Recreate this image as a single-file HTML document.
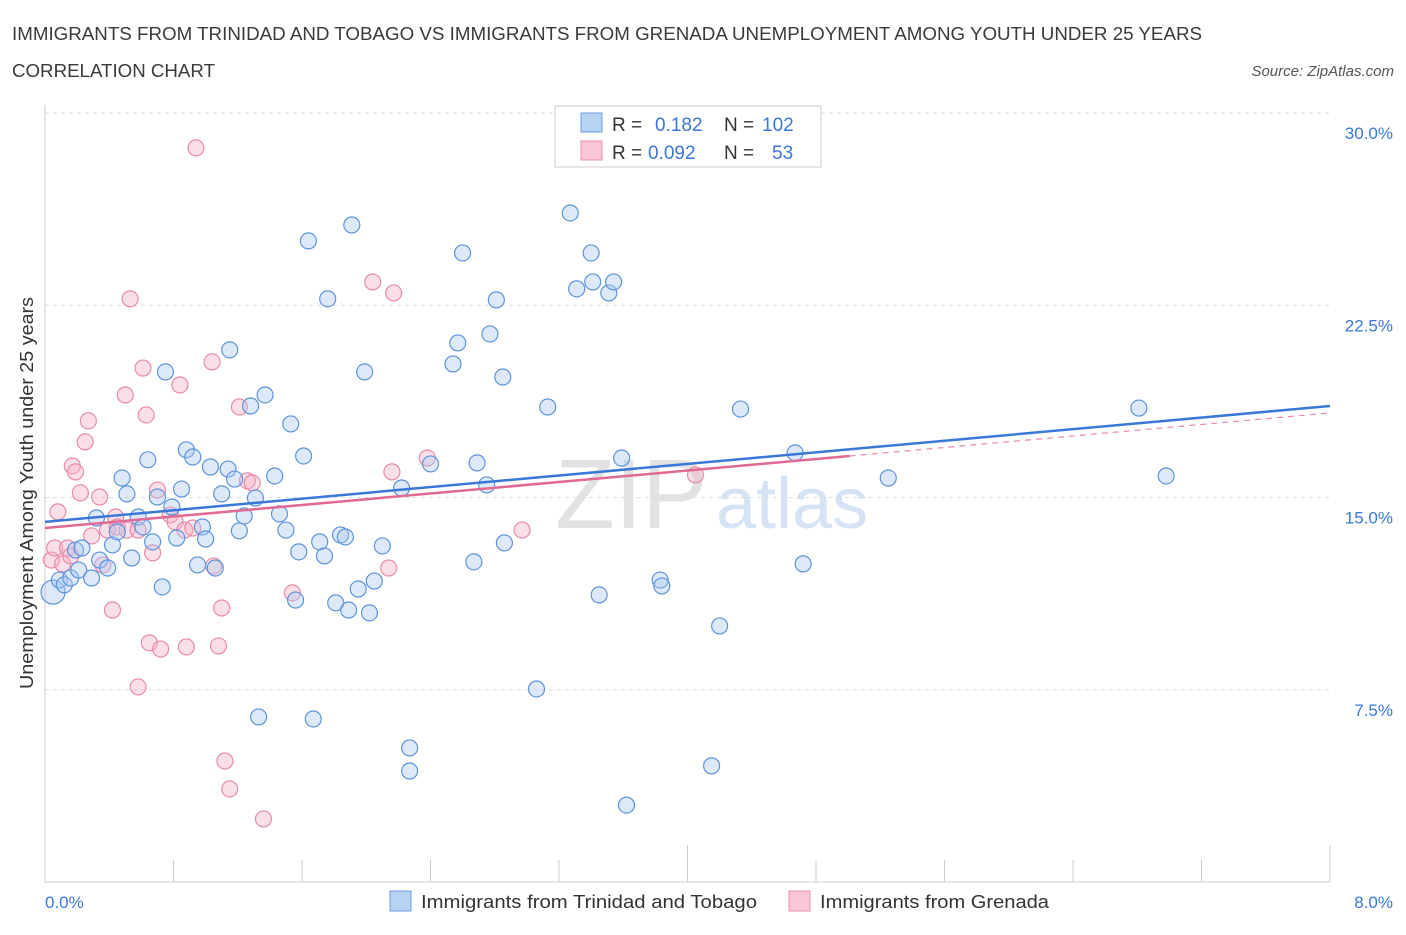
<!DOCTYPE html>
<html><head><meta charset="utf-8"><style>
body{margin:0;background:#fff;font-family:"Liberation Sans",sans-serif;}
svg text{font-family:"Liberation Sans",sans-serif;}
</style></head><body>
<svg id="chart" width="1406" height="930" xmlns="http://www.w3.org/2000/svg">
<text x="12" y="40" font-size="18" fill="#3a3a3a" textLength="1190" lengthAdjust="spacingAndGlyphs">IMMIGRANTS FROM TRINIDAD AND TOBAGO VS IMMIGRANTS FROM GRENADA UNEMPLOYMENT AMONG YOUTH UNDER 25 YEARS</text>
<text x="12" y="77" font-size="18" fill="#3a3a3a" textLength="203" lengthAdjust="spacingAndGlyphs">CORRELATION CHART</text>
<text x="1394" y="76" font-size="15" font-style="italic" fill="#555" text-anchor="end">Source: ZipAtlas.com</text>
<text x="555" y="528" font-size="98" font-family="Liberation Serif" fill="#e2e2e2">ZIP</text>
<text x="716" y="528" font-size="72" fill="#d5e3f5">atlas</text>
<g id="grid"></g><g id="axes"></g><g id="pts"></g><g id="lines"></g>
<text transform="translate(33,493) rotate(-90)" font-size="18" fill="#333" text-anchor="middle" textLength="392" lengthAdjust="spacingAndGlyphs">Unemployment Among Youth under 25 years</text>
<text x="45" y="908" font-size="17" fill="#3a78d8">0.0%</text>
<text x="1393" y="908" font-size="17" fill="#3a78d8" text-anchor="end">8.0%</text>
<g>
<rect x="555" y="106" width="266" height="61" fill="#fff" stroke="#ccc"/>
<rect x="581" y="113" width="21" height="19" fill="#b8d2f4" stroke="#6c9fe0"/>
<rect x="581" y="141" width="21" height="19" fill="#f8c6d5" stroke="#e890ab"/>
<text x="612" y="131" font-size="19" fill="#333">R = </text><text x="655" y="131" font-size="19" fill="#3a78d8">0.182</text>
<text x="724" y="131" font-size="19" fill="#333">N =</text><text x="762" y="131" font-size="19" fill="#3a78d8">102</text>
<text x="612" y="159" font-size="19" fill="#333">R = </text><text x="648" y="159" font-size="19" fill="#3a78d8">0.092</text>
<text x="724" y="159" font-size="19" fill="#333">N =</text><text x="772" y="159" font-size="19" fill="#3a78d8">53</text>
</g>
<g>
<rect x="390" y="891" width="21" height="20" fill="#b8d2f4" stroke="#6c9fe0"/>
<text x="421" y="908" font-size="18" fill="#333" textLength="336" lengthAdjust="spacingAndGlyphs">Immigrants from Trinidad and Tobago</text>
<rect x="789" y="891" width="21" height="20" fill="#f8c6d5" stroke="#e890ab"/>
<text x="820" y="908" font-size="18" fill="#333" textLength="229" lengthAdjust="spacingAndGlyphs">Immigrants from Grenada</text>
</g>
</svg>
<script>
const yTicks=[7.5,15,22.5,30];
const yTickLabels=["7.5%","15.0%","22.5%","30.0%"];
const xTicks=[0,0.8,1.6,2.4,3.2,4.0,4.8,5.6,6.4,7.2,8.0];
const blueX=[0.05,0.09,0.12,0.16,0.19,0.23,0.21,0.29,0.32,0.34,0.39,0.42,0.45,0.48,0.51,0.54,0.58,0.61,0.64,0.67,0.70,0.73,0.75,0.79,0.82,0.85,0.88,0.92,0.95,0.98,1.00,1.03,1.06,1.10,1.14,1.15,1.18,1.21,1.24,1.28,1.31,1.33,1.37,1.43,1.46,1.50,1.53,1.56,1.58,1.61,1.64,1.67,1.71,1.74,1.76,1.81,1.84,1.87,1.89,1.91,1.95,1.99,2.02,2.05,2.10,2.22,2.27,2.27,2.40,2.54,2.57,2.60,2.67,2.69,2.75,2.77,2.81,2.85,2.86,3.06,3.13,3.27,3.31,3.40,3.41,3.45,3.51,3.54,3.59,3.62,3.83,3.84,4.15,4.20,4.33,4.67,4.72,5.25,6.81,6.98];
const blueY=[11.31,11.78,11.59,11.86,12.95,13.03,12.17,11.86,14.20,12.56,12.25,13.15,13.66,15.76,15.14,12.64,14.24,13.85,16.47,13.27,15.02,11.51,19.90,14.63,13.42,15.33,16.86,16.58,12.37,13.85,13.38,16.19,12.25,15.14,16.11,20.76,15.72,13.70,14.28,18.57,14.98,6.44,19.00,15.84,14.36,13.73,17.87,11.00,12.88,16.62,25.01,6.36,13.27,12.72,22.75,10.89,13.54,13.46,10.61,25.63,11.43,19.90,10.50,11.74,13.11,15.37,4.33,5.23,16.31,20.21,21.03,24.54,12.49,16.35,15.49,21.38,22.71,19.70,13.23,7.53,18.53,26.10,23.14,24.54,23.41,11.20,22.98,23.41,16.54,3.00,11.78,11.55,4.53,9.99,18.45,16.74,12.41,15.76,18.49,15.84];
const pinkX=[0.04,0.06,0.08,0.11,0.14,0.16,0.17,0.19,0.22,0.25,0.27,0.29,0.34,0.36,0.39,0.42,0.44,0.45,0.50,0.51,0.53,0.58,0.61,0.63,0.65,0.67,0.70,0.72,0.78,0.81,0.84,0.87,0.88,0.92,0.94,1.04,1.05,1.08,1.10,1.12,1.15,1.21,1.26,1.29,1.36,1.54,2.04,2.14,2.16,2.17,2.38,2.97,4.05,0.58];
const pinkY=[12.56,13.03,14.44,12.41,13.03,12.72,16.23,16.00,15.18,17.17,17.99,13.50,15.02,12.37,13.73,10.61,14.24,13.85,19.00,13.73,22.75,13.73,20.05,18.22,9.33,12.84,15.29,9.09,14.32,14.05,19.39,13.73,9.17,13.81,28.64,20.29,12.33,9.21,10.69,4.72,3.63,18.53,15.65,15.57,2.46,11.28,23.41,12.25,16.00,22.98,16.54,13.73,15.88,7.61];
const blueTrend=[[0,14.05],[8,18.57]];
const pinkTrendSolid=[[0,13.81],[5.01,16.62]];
const pinkTrendDash=[[5.01,16.62],[8,18.30]];
const X0=45,X1=1330,Y0=882,Y1=113;
const xs=v=>X0+(v/8)*(X1-X0);
const ys=v=>Y0-(v/30)*(Y0-Y1);
const NS="http://www.w3.org/2000/svg";
function mk(t,a,p){const e=document.createElementNS(NS,t);for(const k in a)e.setAttribute(k,a[k]);p.appendChild(e);return e;}
const grid=document.getElementById('grid'),axes=document.getElementById('axes'),pts=document.getElementById('pts'),lines=document.getElementById('lines');
yTicks.forEach((t,i)=>{
 const l=mk('line',{x1:X0,x2:X1,y1:ys(t),y2:ys(t),stroke:'#ddd','stroke-dasharray':'4,4'},grid);
 
 
 const tx=mk('text',{x:1393,y:ys(t)+26,'font-size':17,fill:'#3a78d8','text-anchor':'end'},axes);
 tx.textContent=yTickLabels[i];
 
 
});
const ax=mk('line',{x1:X0,x2:X0,y1:105,y2:Y0,stroke:'#ccc'},axes);


const bx=mk('line',{x1:X0,x2:X1,y1:Y0,y2:Y0,stroke:'#ccc'},axes);


xTicks.forEach(t=>{
 const l=mk('line',{x1:xs(t),x2:xs(t),y1:Y0,y2:Y0-(t===0||t===4||t===8?37:22),stroke:'#ccc'},axes);
 
 
});
function dots(X,Y,fill,stroke,name){
 X.forEach((x,i)=>{
  const c=mk('circle',{cx:xs(x),cy:ys(Y[i]),r:(i===0&&name==='blue-point')?12:8,fill:fill,'fill-opacity':0.4,stroke:stroke,'stroke-width':1.2},pts);
  
  
 });
}
dots(pinkX,pinkY,'#f5b0c6','#e88aa8','pink-point');
dots(blueX,blueY,'#a9c8f0','#5d93dc','blue-point');
function ln(d,col,w,dash,name){
 const l=mk('line',{x1:xs(d[0][0]),y1:ys(d[0][1]),x2:xs(d[1][0]),y2:ys(d[1][1]),stroke:col,'stroke-width':w},lines);
 if(dash)l.setAttribute('stroke-dasharray',dash);
 
 
}
ln(pinkTrendDash,'#e88aa8',1.2,'6,5','pink-trend-dashed');
ln(pinkTrendSolid,'#e06a94',2.5,null,'pink-trend-line');
ln(blueTrend,'#3a78d8',2.5,null,'blue-trend-line');
</script>
</body></html>
